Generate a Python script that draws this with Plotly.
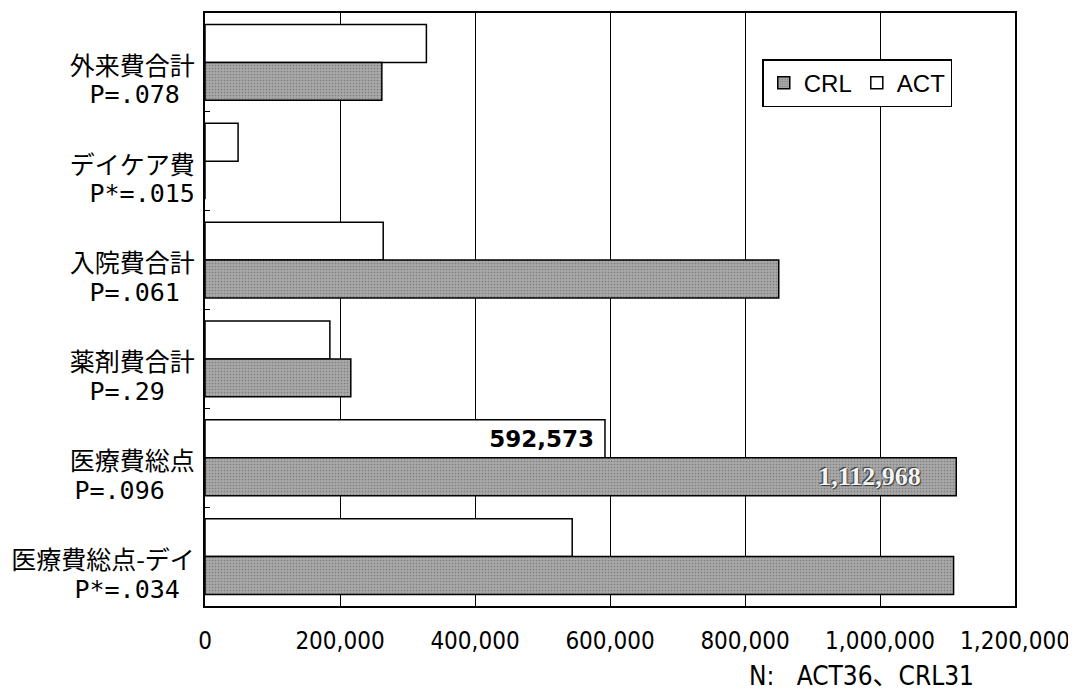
import plotly.graph_objects as go

categories = ["外来費合計", "デイケア費", "入院費合計", "薬剤費合計", "医療費総点", "医療費総点-デイ"]
p_labels = ["P=.078", "P*=.015", "P=.061", "P=.29", "P=.096", "P*=.034"]
p_pad = [1, 0, 1, 2, 2, 1]
act_values = [328000, 49000, 264000, 185000, 592573, 544000]
crl_values = [262000, 0, 850000, 216000, 1112968, 1109000]
act_text = ["", "", "", "", "592,573", ""]
crl_text = ["", "", "", "", "1,112,968", ""]
x_ticks = [0, 200000, 400000, 600000, 800000, 1000000, 1200000]

NB = "\u00a0"
ticktext = [
    "<span style='font-size:25px'>" + c + "</span><br>"
    + "<span style='font-family:DejaVu Sans Mono;font-size:25px'>" + p + NB * n + "</span>"
    for c, p, n in zip(categories, p_labels, p_pad)
]

# page has an 8px body margin: compensate so the plot area lands where the reference has it
OFF = 8

fig = go.Figure()
fig.add_trace(go.Bar(
    name="ACT", y=categories, x=act_values, orientation="h",
    marker=dict(color="white", line=dict(color="black", width=1.5)),
    text=[t + NB if t else t for t in act_text], textposition="inside",
    insidetextanchor="end", textangle=0,
    insidetextfont=dict(family="DejaVu Sans", size=23, color="black", weight="bold"),
))
fig.add_trace(go.Bar(
    name="CRL", y=categories, x=crl_values, orientation="h",
    marker=dict(color="#a8a8a8", line=dict(color="black", width=1.5),
                pattern=dict(shape=".", fillmode="overlay", fgcolor="#555555", size=3, solidity=0.25)),
    text=[t + NB * 5 if t else t for t in crl_text], textposition="inside",
    insidetextanchor="end", textangle=0,
    insidetextfont=dict(family="Liberation Serif", size=26, color="#f4f4f4", weight="bold",
                        shadow="1px 1px 1px #333, -1px -1px 1px #333"),
))

fig.update_layout(
    width=1076, height=693,
    margin=dict(l=205 - OFF, r=61 + OFF, t=11 - OFF, b=87 + OFF),
    paper_bgcolor="white", plot_bgcolor="white",
    barmode="group", bargap=0.232, bargroupgap=0,
    showlegend=True,
    legend=dict(orientation="h", x=0.688, y=0.922, xanchor="left", yanchor="top",
                bordercolor="black", borderwidth=1.5, bgcolor="white",
                traceorder="reversed", itemwidth=30,
                font=dict(family="Liberation Sans, Arial", size=24, color="black")),
    xaxis=dict(range=[0, 1200000], tickvals=x_ticks, tickformat=",d",
               showgrid=True, gridcolor="black", gridwidth=1,
               showline=True, linecolor="black", linewidth=1.5, mirror=True,
               ticks="", zeroline=False,
               tickfont=dict(family="DejaVu Sans Condensed", size=24, color="black"),
               ticklabelstandoff=12),
    yaxis=dict(type="category", categoryorder="array", categoryarray=categories,
               autorange="reversed", tickvals=categories, ticktext=ticktext,
               showline=True, linecolor="black", linewidth=1.5, mirror=True,
               ticks="inside", tickson="boundaries", ticklen=5, tickcolor="black",
               showgrid=False, ticklabelshift=-19, ticklabelstandoff=4,
               tickfont=dict(family="Noto Sans CJK JP", size=22, color="black")),
    annotations=[dict(text="N:" + NB * 3 + "ACT36、CRL31", xref="paper", yref="paper",
                      x=(747 - 205) / 810, y=(606 - 659) / 595, xanchor="left", yanchor="top",
                      showarrow=False,
                      font=dict(family="DejaVu Sans Condensed, Noto Sans CJK JP", size=26, color="black"))],
)

fig.write_html("out.html")
